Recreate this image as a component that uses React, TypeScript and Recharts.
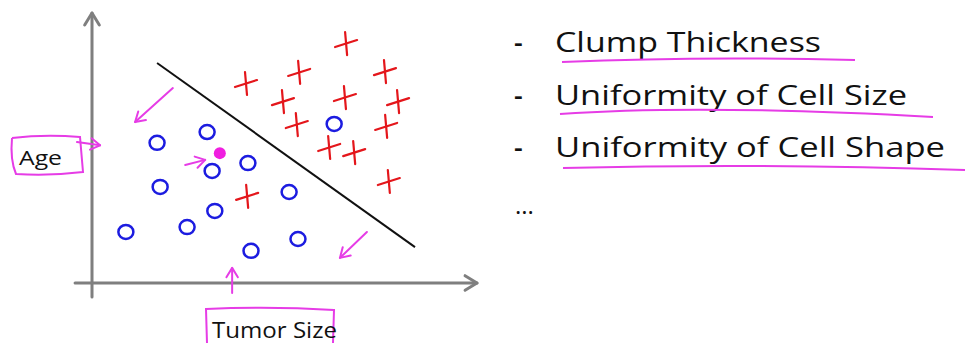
import { ScatterChart, Scatter, XAxis, YAxis, ReferenceLine } from 'recharts';

// coordinates in "tumor size" / "age" units, axis origin = (0, 0)
const benignX = [2.99, 1.69, 4.05, 3.12, 1.77, 5.12, 6.29, 3.19, 2.47, 0.88, 5.35, 4.13];
const benignY = [5.59, 5.19, 4.44, 4.15, 3.56, 3.37, 5.89, 2.67, 2.07, 1.89, 1.63, 1.19];
const malignantX = [6.6, 5.38, 7.61, 4.0, 4.96, 6.57, 7.95, 5.32, 7.64, 6.16, 6.81, 7.71, 4.03];
const malignantY = [8.85, 7.78, 7.81, 7.37, 6.7, 6.85, 6.7, 5.85, 5.78, 5.0, 4.81, 3.74, 3.19];
const queryPoint = [{ x: 3.32, y: 4.81 }];
const boundary = [{ x: 1.69, y: 8.15 }, { x: 8.39, y: 1.33 }];
const pinkArrows = [
  [{ x: 2.1, y: 7.22 }, { x: 1.12, y: 5.96 }],
  [{ x: 2.42, y: 4.37 }, { x: 2.94, y: 4.56 }],
  [{ x: 7.14, y: 1.89 }, { x: 6.44, y: 0.93 }],
  [{ x: 3.64, y: -0.37 }, { x: 3.64, y: 0.56 }],
  [{ x: -0.39, y: 5.22 }, { x: 0.21, y: 5.1 }],
];
const features = ['Clump Thickness', 'Uniformity of Cell Size', 'Uniformity of Cell Shape'];

const benign = benignX.map((x, i) => ({ x, y: benignY[i] }));
const malignant = malignantX.map((x, i) => ({ x, y: malignantY[i] }));

const PINK = '#e63ce6';

const arrow = (color: string, w: number, head: number) => (p: any) => {
  const { x1, y1, x2, y2 } = p;
  const a = Math.atan2(y2 - y1, x2 - x1);
  const hx1 = x2 - head * Math.cos(a - 0.55);
  const hy1 = y2 - head * Math.sin(a - 0.55);
  const hx2 = x2 - head * Math.cos(a + 0.55);
  const hy2 = y2 - head * Math.sin(a + 0.55);
  return (
    <g>
      <line x1={x1} y1={y1} x2={x2} y2={y2} stroke={color} strokeWidth={w} strokeLinecap="round" />
      <polyline points={`${hx1},${hy1} ${x2},${y2} ${hx2},${hy2}`} fill="none" stroke={color}
        strokeWidth={w} strokeLinecap="round" strokeLinejoin="round" />
    </g>
  );
};

const Ring = (p: any) => (
  <ellipse cx={p.cx} cy={p.cy} rx={7.5} ry={7} fill="none" stroke="#1c1ce0" strokeWidth={2.5} />
);

// hand-drawn "+" : near-vertical stroke and a slanted bar
const Cross = (p: any) => (
  <g stroke="#e4161b" strokeWidth={2.2} strokeLinecap="round">
    <line x1={p.cx - 11} y1={p.cy + 3} x2={p.cx + 11} y2={p.cy - 4} />
    <line x1={p.cx - 1} y1={p.cy - 12} x2={p.cx + 1} y2={p.cy + 11} />
  </g>
);

const Dot = (p: any) => <circle cx={p.cx} cy={p.cy} r={6} fill="#f01ee0" />;

export default function App() {
  return (
    <div style={{ position: 'absolute', left: 0, top: 0, width: 965, height: 343, background: '#fff' }}>
      <ScatterChart width={965} height={343} margin={{ top: 13, right: 488, bottom: 60, left: 92 }}>
        <XAxis type="number" dataKey="x" domain={[0, 10]} hide />
        <YAxis type="number" dataKey="y" domain={[0, 10]} hide />
        <ReferenceLine segment={[{ x: 0, y: -0.52 }, { x: 0, y: 10 }]} ifOverflow="visible"
          stroke="#7f7f7f" strokeWidth={3} shape={arrow('#7f7f7f', 3, 14)} />
        <ReferenceLine segment={[{ x: -0.44, y: 0 }, { x: 10, y: 0 }]} ifOverflow="visible"
          stroke="#7f7f7f" strokeWidth={3} shape={arrow('#7f7f7f', 3, 14)} />
        <ReferenceLine segment={boundary} ifOverflow="visible" stroke="#111" strokeWidth={2} />
        {pinkArrows.map((s, i) => (
          <ReferenceLine key={i} segment={s} ifOverflow="visible" stroke={PINK} shape={arrow(PINK, 2, 11)} />
        ))}
        <Scatter data={benign} shape={Ring} isAnimationActive={false} />
        <Scatter data={malignant} shape={Cross} isAnimationActive={false} />
        <Scatter data={queryPoint} shape={Dot} isAnimationActive={false} />
      </ScatterChart>
      <svg width={965} height={343} style={{ position: 'absolute', left: 0, top: 0, pointerEvents: 'none' }}
        fontFamily="'Open Sans', sans-serif" fill="#111">
        {/* axis labels */}
        <path d="M12 138 Q45 134 80 137 L83 172 Q50 176 16 174 Q10 160 12 138" fill="none" stroke={PINK} strokeWidth={2} />
        <text x={19} y={165} fontSize={20} textLength={43} lengthAdjust="spacingAndGlyphs">Age</text>
        <path d="M207 343 L206 309 Q270 306 334 310 L333 343" fill="none" stroke={PINK} strokeWidth={2} />
        <text x={212} y={338} fontSize={21} textLength={125} lengthAdjust="spacingAndGlyphs">Tumor Size</text>
        {/* feature list */}
        {features.map((f, i) => (
          <g key={f}>
            <text x={514} y={52 + i * 52.5} fontSize={27} fontWeight={600}>-</text>
            <text x={555} y={52 + i * 52.5} fontSize={28}
              textLength={[266, 352, 390][i]} lengthAdjust="spacingAndGlyphs">{f}</text>
          </g>
        ))}
        <text x={515} y={214} fontSize={24}>...</text>
        <path d="M562 62 Q700 56 855 60" fill="none" stroke={PINK} strokeWidth={2} />
        <path d="M560 114 Q700 104 933 117" fill="none" stroke={PINK} strokeWidth={2} />
        <path d="M563 168 Q760 163 965 170" fill="none" stroke={PINK} strokeWidth={2} />
      </svg>
    </div>
  );
}
